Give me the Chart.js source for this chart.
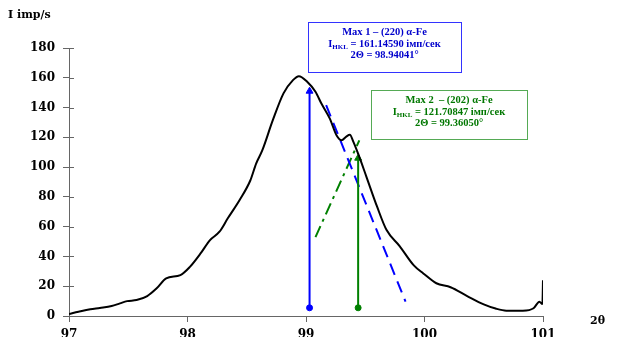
<!DOCTYPE html>
<html>
<head>
<meta charset="utf-8">
<script src="https://cdn.jsdelivr.net/npm/chart.js@4"></script>
<style>
  body { margin: 0; background: #fff; }
  #wrap { width: 620px; height: 337px; position: relative; }
</style>
</head>
<body>
<div id="wrap"><canvas id="canvas"></canvas></div>
<script>
// diffraction profile, 2theta (deg) vs intensity (imp/s)
var theta = [97.00, 97.08, 97.18, 97.26, 97.36, 97.43, 97.49, 97.57, 97.66, 97.74,
  97.82, 97.94, 98.02, 98.11, 98.19, 98.27, 98.34, 98.44, 98.53, 98.58,
  98.63, 98.72, 98.81, 98.89, 98.94, 99.01, 99.08, 99.13,
  99.20, 99.26, 99.30, 99.34, 99.37, 99.40, 99.44, 99.51, 99.60, 99.68,
  99.79, 99.91, 99.99, 100.10, 100.22, 100.36, 100.50, 100.60, 100.69, 100.83,
  100.92, 100.97, 100.995, 101.0];
var intensity = [1.3, 2.8, 4.5, 5.4, 6.7, 8.5, 10.0, 10.7, 13.4, 18.6,
  25.3, 27.5, 33, 42, 51, 56.6, 65.6, 77.9, 91, 102.5,
  111, 131.5, 149.5, 158.4, 161.1, 157.3, 150.6, 142.7,
  132.7, 121, 118, 120.5, 121.7, 117, 109, 93.5, 73.4, 57.7,
  47, 34, 28.6, 22, 19.3, 13.4, 7.8, 5, 3.6, 3.6,
  5.2, 9.6, 8, 24];

var yTicks = [0, 20, 40, 60, 80, 100, 120, 140, 160, 180];
var xTicks = [97, 98, 99, 100, 101];

// marker lines: [x, yStart, x, yEnd]
var max1Arrow = [99.03, 5.5, 99.03, 151];
var max2Arrow = [99.44, 5.5, 99.44, 106];
var max1Tangent = [99.17, 141.6, 99.84, 9.6];
var max2Tangent = [99.08, 53, 99.45, 118];

var max1Text = ['Max 1 – (220) α-Fe', '161.14590 імп/сек', '2Θ = 98.94041°'];
var max2Text = ['Max 2  – (202) α-Fe', '121.70847 імп/сек', '2Θ = 99.36050°'];

function seg(a) {
  return [{x: a[0], y: a[1]}, {x: a[2], y: a[3]}];
}

var curve = theta.map(function (t, i) { return {x: t, y: intensity[i]}; });

var tickFont = {family: 'DejaVu Serif', size: 12, weight: 'bold'};

function drawBox(ctx, x, y, w, h, border, color, lines) {
  ctx.save();
  ctx.fillStyle = '#fff';
  ctx.fillRect(x, y, w, h);
  ctx.strokeStyle = border;
  ctx.lineWidth = 1;
  ctx.strokeRect(x + 0.5, y + 0.5, w, h);
  ctx.fillStyle = color;
  ctx.textBaseline = 'middle';
  ctx.textAlign = 'center';
  var cx = x + w / 2;
  var big = 'bold 10.5px "Liberation Serif"';
  var small = 'bold 7px "Liberation Serif"';
  ctx.font = big;
  ctx.fillText(lines[0], cx, y + 10);
  // second line: I with subscript HKL
  var rest = ' = ' + lines[1];
  var wI = ctx.measureText('I').width;
  var wR = ctx.measureText(rest).width;
  ctx.font = small;
  var wS = ctx.measureText('HKL').width;
  var sx = cx - (wI + wS + wR) / 2;
  ctx.textAlign = 'left';
  ctx.font = big;
  ctx.fillText('I', sx, y + 22);
  ctx.font = small;
  ctx.fillText('HKL', sx + wI, y + 25);
  ctx.font = big;
  ctx.fillText(rest, sx + wI + wS, y + 22);
  ctx.textAlign = 'center';
  ctx.fillText(lines[2], cx, y + 33);
  ctx.restore();
}

var extras = {
  id: 'extras',
  afterDraw: function (chart) {
    var ctx = chart.ctx;
    var ys = chart.scales.y;
    var area = chart.chartArea;
    ctx.save();
    // inner half of y tick marks
    ctx.strokeStyle = '#666';
    ctx.lineWidth = 1;
    yTicks.forEach(function (v) {
      var py = Math.round(ys.getPixelForValue(v)) + 0.5;
      ctx.beginPath();
      ctx.moveTo(area.left, py);
      ctx.lineTo(area.left + 5, py);
      ctx.stroke();
    });
    // axis titles
    ctx.fillStyle = '#000';
    ctx.font = 'bold 11px "DejaVu Serif"';
    ctx.textBaseline = 'middle';
    ctx.textAlign = 'left';
    ctx.fillText('I imp/s', 8, 15);
    ctx.fillText('2θ', 590, 321);
    ctx.restore();
    drawBox(ctx, 308, 22, 153, 50, '#3333ff', '#0000cc', max1Text);
    drawBox(ctx, 371, 90, 156, 49, '#55aa55', '#007700', max2Text);
  }
};

var ctx = document.getElementById('canvas').getContext('2d');
new Chart(ctx, {
  type: 'line',
  data: {
    datasets: [
      {
        data: curve,
        borderColor: '#000',
        borderWidth: 2,
        pointRadius: 0,
        cubicInterpolationMode: 'monotone'
      },
      {
        data: seg(max1Arrow),
        borderColor: '#0000ff',
        backgroundColor: '#0000ff',
        borderWidth: 2,
        pointStyle: ['circle', 'triangle'],
        pointRadius: [3, 4],
        pointBorderWidth: 1
      },
      {
        data: seg(max2Arrow),
        borderColor: '#008000',
        backgroundColor: '#008000',
        borderWidth: 2,
        pointStyle: ['circle', 'triangle'],
        pointRadius: [3, 4],
        pointBorderWidth: 1
      },
      {
        data: seg(max1Tangent),
        borderColor: '#0000ff',
        borderWidth: 2,
        borderDash: [12, 7],
        pointRadius: 0
      },
      {
        data: seg(max2Tangent),
        borderColor: '#008000',
        borderWidth: 2,
        borderDash: [12, 5, 3, 5],
        pointRadius: 0
      }
    ]
  },
  options: {
    responsive: true,
    maintainAspectRatio: false,
    animation: false,
    layout: {padding: {top: 48, right: 77, left: 0, bottom: 0}},
    plugins: {legend: {display: false}, tooltip: {enabled: false}},
    scales: {
      x: {
        type: 'linear',
        min: 97,
        max: 101,
        afterBuildTicks: function (s) { s.ticks = xTicks.map(function (v) { return {value: v}; }); },
        afterFit: function (s) { s.height = 21; },
        ticks: {font: tickFont, color: '#000', padding: 6, maxRotation: 0},
        grid: {drawOnChartArea: false, tickLength: 6, color: '#666'},
        border: {color: '#666'}
      },
      y: {
        min: 0,
        max: 180,
        afterBuildTicks: function (s) { s.ticks = yTicks.map(function (v) { return {value: v}; }); },
        afterFit: function (s) { s.width = 69; },
        ticks: {font: tickFont, color: '#000', padding: 8},
        grid: {drawOnChartArea: false, tickLength: 6, color: '#666'},
        border: {color: '#666'}
      }
    }
  },
  plugins: [extras]
});
</script>
</body>
</html>
